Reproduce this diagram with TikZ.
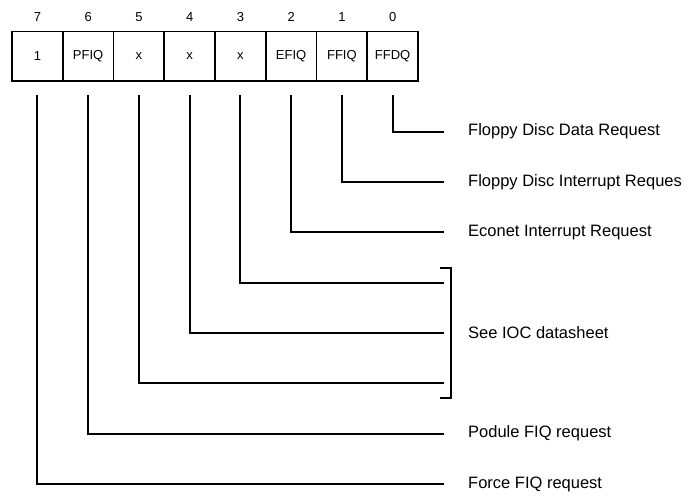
\documentclass[tikz,border=0pt]{standalone}
\usepackage{fontspec}
\setmainfont{Liberation Sans}
\usepackage{tikz}

\tikzset{
  cell/.style={draw, line width=1.8pt, minimum width=50.75pt, minimum height=49.5pt,
    inner sep=0pt, font=\fontsize{13}{15}\selectfont},
  bitno/.style={inner sep=0pt, font=\fontsize{13}{15}\selectfont},
  desc/.style={anchor=west, inner sep=0pt, font=\fontsize{16.5}{19}\selectfont},
  wire/.style={line width=1.8pt}
}

\begin{document}
\begin{tikzpicture}[x=1pt, y=1pt]
  \useasboundingbox (0,0) rectangle (688,500);
  \foreach \b/\t [count=\k from 0] in {7/1,6/PFIQ,5/x,4/x,3/x,2/EFIQ,1/FFIQ,0/FFDQ} {
    \node[cell] (c\b) at ({12+(\k+0.5)*50.75}, 443.75) {\t};
    \node[bitno] (n\b) at ({12+(\k+0.5)*50.75}, 483) {\b};
  }
  \foreach \b in {0,...,7}
    \coordinate (e\b) at (444, {368.3-50.33*\b});
  \node[desc] (d0) at (468, 368.3) {Floppy Disc Data Request};
  \node[desc] (d1) at (468, 317.97) {Floppy Disc Interrupt Reques};
  \node[desc] (d2) at (468, 267.64) {Econet Interrupt Request};
  \node[desc] (ioc) at (468, 166.98) {See IOC datasheet};
  \node[desc] (d6) at (468, 66.32) {Podule FIQ request};
  \node[desc] (d7) at (468, 15.99) {Force FIQ request};
  \foreach \b in {0,...,7}
    \draw[wire] ([yshift=-13pt]c\b.south) |- (e\b);
  \coordinate (b3) at (451, 232);
  \coordinate (b5) at (451, 102);
  \draw[wire] ([xshift=-11pt]b3) -- (b3) -- (b5) -- ([xshift=-11pt]b5);
\end{tikzpicture}
\end{document}
